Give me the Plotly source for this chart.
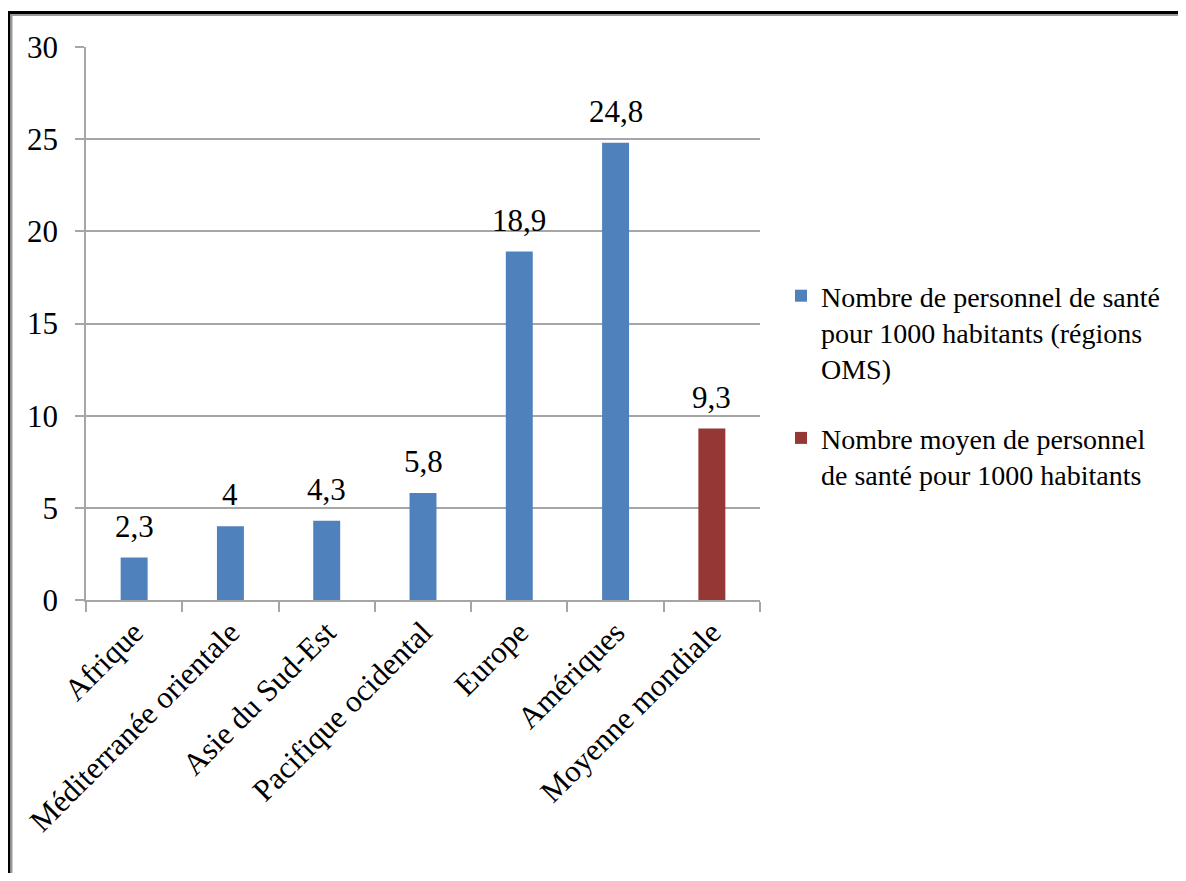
import plotly.graph_objects as go

categories = ["Afrique", "Méditerranée orientale", "Asie du Sud-Est", "Pacifique ocidental",
              "Europe", "Amériques", "Moyenne mondiale"]
region_values = [2.3, 4, 4.3, 5.8, 18.9, 24.8, None]
world_values = [None, None, None, None, None, None, 9.3]
value_labels = ["2,3", "4", "4,3", "5,8", "18,9", "24,8", "9,3"]
series_names = ["Nombre de personnel de santé<br>pour 1000 habitants (régions<br>OMS)",
                "Nombre moyen de personnel<br>de santé pour 1000 habitants"]
y_ticks = [0, 5, 10, 15, 20, 25, 30]

OFF = 8  # default page body margin
W, H = 1186 - 2 * OFF, 881 - 2 * OFF
# plot area in window pixels: x 86..760, y 47..600
ML, MT = 86 - OFF, 47 - OFF
PW, PH = 760 - 86, 600 - 47
MR, MB = W - ML - PW, H - MT - PH


def px_x(px):
    return (px - OFF - ML) / PW


def px_y(py):
    return (MT + PH - (py - OFF)) / PH


FONT = "Liberation Serif, Times New Roman, serif"
GRAY = "#A6A6A6"

fig = go.Figure()
fig.add_trace(go.Bar(x=categories, y=region_values, name=series_names[0],
                     marker=dict(color="#4F81BD", line=dict(width=0)),
                     width=0.28, legendgroup="a"))
fig.add_trace(go.Bar(x=categories, y=world_values, name=series_names[1],
                     marker=dict(color="#953735", line=dict(width=0)),
                     width=0.28, legendgroup="b"))

all_vals = [r if r is not None else w for r, w in zip(region_values, world_values)]
for c, v, t in zip(categories, all_vals, value_labels):
    fig.add_annotation(x=c, y=v, text=t, showarrow=False, yanchor="bottom",
                       yshift=12, font=dict(family=FONT, size=31, color="black"))

shapes = [
    dict(type="line", xref="paper", yref="paper", x0=px_x(8), x1=px_x(1200),
         y0=px_y(12.5), y1=px_y(12.5), line=dict(color="black", width=3)),
    dict(type="line", xref="paper", yref="paper", x0=px_x(11), x1=px_x(1200),
         y0=px_y(15), y1=px_y(15), line=dict(color="#9A9A9A", width=2)),
    dict(type="line", xref="paper", yref="paper", x0=px_x(9), x1=px_x(9),
         y0=px_y(11), y1=px_y(900), line=dict(color="black", width=3)),
    dict(type="line", xref="paper", yref="paper", x0=px_x(11.5), x1=px_x(11.5),
         y0=px_y(14), y1=px_y(900), line=dict(color="#9A9A9A", width=2)),
]

fig.update_layout(
    width=W, height=H,
    margin=dict(l=ML, r=MR, t=MT, b=MB, autoexpand=False),
    paper_bgcolor="white", plot_bgcolor="white",
    barmode="overlay",
    font=dict(family=FONT, size=31, color="black"),
    shapes=shapes,
    showlegend=True,
    legend=dict(x=px_x(781), y=px_y(271), xanchor="left", yanchor="top",
                font=dict(family=FONT, size=28, color="black"),
                traceorder="grouped", tracegroupgap=30, valign="top",
                bgcolor="rgba(0,0,0,0)"),
    xaxis=dict(type="category", tickangle=-45, ticks="outside", tickson="boundaries",
               ticklen=10, tickcolor=GRAY, tickwidth=1.5, showline=True, linecolor=GRAY,
               linewidth=1.5, showgrid=False,
               tickfont=dict(family=FONT, size=31, color="black")),
    yaxis=dict(range=[0, 30], tickvals=y_ticks, ticks="outside", ticklen=9,
               tickcolor=GRAY, tickwidth=1.5, showline=True, linecolor=GRAY, linewidth=1.5,
               showgrid=True, gridcolor=GRAY, gridwidth=1.5, zeroline=False,
               ticklabelstandoff=11,
               tickfont=dict(family=FONT, size=31, color="black")),
)

fig.write_html("out.html")
